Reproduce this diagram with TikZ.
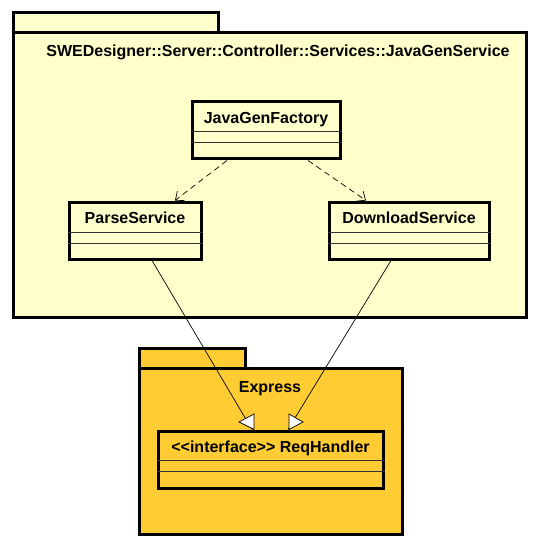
\documentclass[tikz,border=0pt]{standalone}
\usepackage{fontspec}
\setmainfont{Liberation Sans}
\usetikzlibrary{arrows.meta,calc}

\definecolor{pkgyellow}{HTML}{FFFFCC}
\definecolor{pkgorange}{HTML}{FFCC33}

\begin{document}
\begin{tikzpicture}[x=1pt,y=-1pt,join=miter]
		\tikzstyle{pkg}=[draw, line width=3pt]
		\tikzstyle{cls}=[draw, line width=3pt, rectangle, inner sep=0pt]
		\tikzstyle{lbl}=[font=\fontsize{16}{18}\selectfont\bfseries, inner sep=0pt, anchor=base]
		\tikzstyle{sep}=[draw, line width=0.8pt, black!80]
		\tikzstyle{dep}=[draw, line width=0.7pt, dash pattern=on 6pt off 4pt, -{Straight Barb[length=7pt,width=12pt]}]
		\tikzstyle{real}=[draw, line width=0.7pt]
		\tikzstyle{head}=[draw, line width=0.7pt, fill=white]
		
		\useasboundingbox (0,0) rectangle (540,548);
		
		% package JavaGenService
		\draw[pkg, fill=pkgyellow] (13,13) rectangle (218,33);
		\draw[pkg, fill=pkgyellow] (13,33) rectangle (526,317);
		\node[lbl] (jgs) at (278,57) {SWEDesigner::Server::Controller::Services::JavaGenService};
		
		% package Express
		\draw[pkg, fill=pkgorange] (139,348) rectangle (245,368);
		\draw[pkg, fill=pkgorange] (139,368) rectangle (402,534);
		\node[lbl] (exp) at (270,392) {Express};
		
		% classes
		\node[cls, fill=pkgyellow, minimum width=148pt, minimum height=57pt] (jgf) at (266,130.5) {};
		\node[lbl] at ($(jgf.north)+(0,23)$) {JavaGenFactory};
		\draw[sep] ($(jgf.north west)+(0,31)$) -- ($(jgf.north east)+(0,31)$);
		\draw[sep] ($(jgf.north west)+(0,42)$) -- ($(jgf.north east)+(0,42)$);
		
		\node[cls, fill=pkgyellow, minimum width=132pt, minimum height=57pt] (ps) at (135,230.5) {};
		\node[lbl] at ($(ps.north)+(0,23)$) {ParseService};
		\draw[sep] ($(ps.north west)+(0,32)$) -- ($(ps.north east)+(0,32)$);
		\draw[sep] ($(ps.north west)+(0,43)$) -- ($(ps.north east)+(0,43)$);
		
		\node[cls, fill=pkgyellow, minimum width=160pt, minimum height=57pt] (ds) at (409,230.5) {};
		\node[lbl] at ($(ds.north)+(0,23)$) {DownloadService};
		\draw[sep] ($(ds.north west)+(0,32)$) -- ($(ds.north east)+(0,32)$);
		\draw[sep] ($(ds.north west)+(0,43)$) -- ($(ds.north east)+(0,43)$);
		
		\node[cls, fill=pkgorange, minimum width=225pt, minimum height=57pt] (rh) at (270.5,459.5) {};
		\node[lbl] at ($(rh.north)+(0,23)$) {{<}{<}interface{>}{>} ReqHandler};
		\draw[sep] ($(rh.north west)+(0,31)$) -- ($(rh.north east)+(0,31)$);
		\draw[sep] ($(rh.north west)+(0,42)$) -- ($(rh.north east)+(0,42)$);
		
		% dependencies
		\draw[dep] ($(jgf.south)+(-39,0)$) -- ($(ps.north)+(40,0)$);
		\draw[dep] ($(jgf.south)+(42,0)$) -- ($(ds.north)+(-43,0)$);
		
		% realizations
		\draw[real] ($(ps.south)+(17,0)$) -- ($(rh.north)+(-18.5,0)$);
		\draw[real] ($(ds.south)+(-18,0)$) -- ($(rh.north)+(17.5,0)$);
		\draw[head] (239,422) -- (254,414) -- (254,429.5) -- cycle;
		\draw[head] (289,414) -- (289,429.5) -- (303,422) -- cycle;
	\end{tikzpicture}
\end{document}
